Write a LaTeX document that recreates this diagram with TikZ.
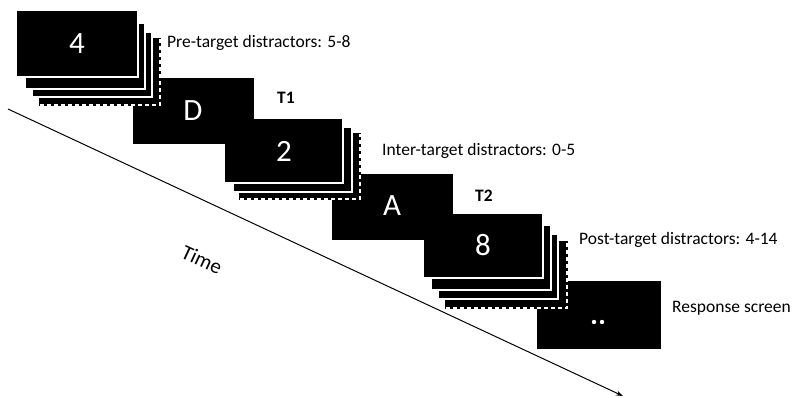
\documentclass[tikz,border=0pt]{standalone}
\usepackage{fontspec}
\setmainfont{Carlito}
\usetikzlibrary{arrows.meta}
\tikzset{
  plaincard/.style={fill=black, draw=black, line width=0.8pt},
  stackcard/.style={fill=black, draw=white, line width=1.6pt},
  lastcard/.style={fill=black, draw=black, line width=2pt},
  lastdash/.style={draw=white, line width=1.2pt, dash pattern=on 4pt off 3pt},
  digit/.style={text=white, font=\fontsize{31}{31}\selectfont, inner sep=0pt},
  lbl/.style={anchor=base west, font=\fontsize{17.5}{18}\selectfont, inner sep=0pt},
  tlbl/.style={anchor=base west, font=\fontsize{17.5}{18}\selectfont\bfseries, inner sep=0pt},
  timeline/.style={line width=1pt, -{Stealth[length=7pt,width=5pt]}}
}
\newcommand{\lastcardat}[4]{%
  \fill[lastcard] (#1,#2) rectangle (#3,#4);
  \draw[lastdash] (#1,#4) -- (#3,#4) -- (#3,#2);
}
\begin{document}
\begin{tikzpicture}[x=1pt,y=-1pt]
\useasboundingbox (0,0) rectangle (796,397);
\fill[white] (0,0) rectangle (796,397);

% time axis
\coordinate (tstart) at (8,109);
\coordinate (tend) at (623,396);
\draw[timeline] (tstart) -- (tend);
\node[rotate=-25, inner sep=0pt, font=\fontsize{21}{21}\selectfont] (time) at (202,260) {Time};

% response screen
\filldraw[plaincard] (537,281) rectangle (660,348);
\fill[white] (594,322) circle (2.2);
\fill[white] (602,322) circle (2.2);

% group 3 (post-target)
\lastcardat{446}{242}{567}{308}
\filldraw[stackcard] (438,234) rectangle (558,299);
\filldraw[stackcard] (431,225) rectangle (551,290);
\filldraw[stackcard] (423,213) rectangle (543,278);

% A card
\filldraw[plaincard] (332,174) rectangle (452,239);

% group 2 (inter-target)
\lastcardat{240}{134}{360}{199}
\filldraw[stackcard] (233,127) rectangle (352,192);
\filldraw[stackcard] (224,118) rectangle (343,183);

% D card
\filldraw[plaincard] (133,78) rectangle (253,143);

% group 1 (pre-target)
\lastcardat{40}{39}{160}{105}
\filldraw[stackcard] (32,32) rectangle (152,97);
\filldraw[stackcard] (25,23) rectangle (145,89);
\filldraw[stackcard] (16,10) rectangle (138,77);

% card texts
\node[digit] (d4) at (77,43.5) {4};
\node[digit] (dD) at (193,111) {D};
\node[digit] (d2) at (284,151) {2};
\node[digit] (dA) at (392,206) {A};
\node[digit] (d8) at (483,245) {8};

% labels
\node[lbl] (pre) at (167,47) {Pre-target distractors: 5-8};
\node[tlbl] (t1) at (277,103) {T1};
\node[lbl] (inter) at (382,155) {Inter-target distractors: 0-5};
\node[tlbl] (t2) at (475,201) {T2};
\node[lbl] (post) at (579,244) {Post-target distractors: 4-14};
\node[lbl] (resp) at (672,312) {Response screen};
\end{tikzpicture}
\end{document}
